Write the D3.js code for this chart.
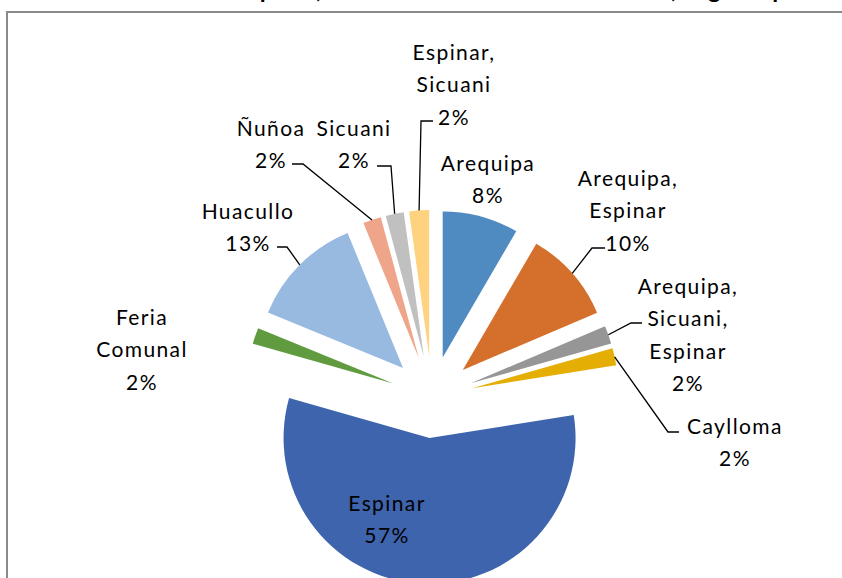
<!DOCTYPE html>
<html>
<head>
<meta charset="utf-8">
<script src="https://cdn.jsdelivr.net/npm/d3@7/dist/d3.min.js"></script>
<style>
html,body{margin:0;padding:0;background:#fff;overflow:hidden;}
svg{display:block;}
</style>
</head>
<body>
<svg id="chart" width="842" height="578"></svg>
<script>
// ---- data ----
const categories = ["Arequipa", "Arequipa, Espinar", "Arequipa, Sicuani, Espinar", "Caylloma", "Espinar",
                    "Feria Comunal", "Huacullo", "Ñuñoa", "Sicuani", "Espinar, Sicuani"];
const values = [8.4, 10.2, 2.0, 1.9, 56.9, 1.8, 12.6, 2.0, 2.0, 2.2];
const pctLabels = ["8%", "10%", "2%", "2%", "57%", "2%", "13%", "2%", "2%", "2%"];
const labelLines = [["Arequipa"], ["Arequipa,", "Espinar"], ["Arequipa,", "Sicuani,", "Espinar"], ["Caylloma"],
                    ["Espinar"], ["Feria", "Comunal"], ["Huacullo"], ["Ñuñoa"], ["Sicuani"], ["Espinar,", "Sicuani"]];
const colors = ["#4F8BC0", "#D4702B", "#969696", "#E5AE04", "#3D64AD", "#609B3F", "#98B9E0", "#EFA58A", "#C0C0C0", "#FFD27F"];
const titleText = "Mercados de Espinar, de los criadores de la zona alta, según tipo";

// ---- layout ----
const cx = 432, cy = 397, R = 146, explode = 41;
// label layout: center x, first line center y, leader elbow (x,y) and end x (null = no leader)
const labelLayout = [
  {x: 488, y: 163, lead: null},
  {x: 628, y: 178, lead: [592, 248, 605]},
  {x: 688, y: 286, lead: [631, 323, 642]},
  {x: 735, y: 426, lead: [668, 432, 679]},
  {x: 387, y: 503, lead: null},
  {x: 142, y: 317, lead: null},
  {x: 248, y: 211, lead: [287, 247, 277]},
  {x: 271, y: 128, lead: [303, 164, 292]},
  {x: 354, y: 128, lead: [391, 166, 377]},
  {x: 454, y: 52,  lead: [421, 121, 433]}
];
const lineH = 32.5;

const svg = d3.select("#chart");
svg.append("rect").attr("width", 842).attr("height", 578).attr("fill", "#fff");

// title (mostly clipped above the page, as in the reference)
const title = svg.append("text")
  .attr("x", 0).attr("y", -2)
  .attr("font-family", "Lato, 'Open Sans', sans-serif")
  .attr("font-weight", "bold").attr("font-size", 24).attr("fill", "#000")
  .text(titleText);
(function(){
  const node = title.node();
  const c1 = titleText.indexOf(","), c2 = titleText.indexOf(",", c1 + 1);
  const p1 = node.getStartPositionOfChar(c1).x, p2 = node.getStartPositionOfChar(c2).x;
  const ls = (355 - (p2 - p1)) / (c2 - c1);
  title.attr("letter-spacing", ls);
  const q1 = node.getStartPositionOfChar(c1).x;
  title.attr("x", 316 - q1);
})();

// border
svg.append("rect").attr("x", 7).attr("y", 12).attr("width", 900).attr("height", 700)
  .attr("fill", "none").attr("stroke", "#898989").attr("stroke-width", 2);

const pie = d3.pie().sort(null).value(d => d).startAngle(0).endAngle(2 * Math.PI);
const arcs = pie(values);
const arc = d3.arc().innerRadius(0).outerRadius(R);

const g = svg.append("g").attr("transform", `translate(${cx},${cy})`);
const mid = d => (d.startAngle + d.endAngle) / 2;

g.selectAll("path.slice").data(arcs).enter().append("path")
  .attr("class", "slice")
  .attr("d", arc)
  .attr("fill", (d, i) => colors[i])
  .attr("transform", d => `translate(${explode * Math.sin(mid(d))},${-explode * Math.cos(mid(d))})`);

// leader lines
arcs.forEach((d, i) => {
  const L = labelLayout[i];
  if (!L.lead) return;
  const a = mid(d), rr = R + explode;
  const sx = cx + rr * Math.sin(a), sy = cy - rr * Math.cos(a);
  svg.append("polyline")
    .attr("points", `${sx},${sy} ${L.lead[0]},${L.lead[1]} ${L.lead[2]},${L.lead[1]}`)
    .attr("fill", "none").attr("stroke", "#000").attr("stroke-width", 1.3);
});

// labels
arcs.forEach((d, i) => {
  const L = labelLayout[i];
  const lines = labelLines[i].concat([pctLabels[i]]);
  const t = svg.append("text")
    .attr("font-family", "Lato, 'Open Sans', sans-serif")
    .attr("font-size", 21).attr("fill", "#000")
    .attr("letter-spacing", 1.4)
    .attr("text-anchor", "middle");
  lines.forEach((ln, k) => {
    t.append("tspan").attr("x", L.x).attr("y", L.y + k * lineH).attr("dy", "0.36em").text(ln);
  });
});
</script>
</body>
</html>
